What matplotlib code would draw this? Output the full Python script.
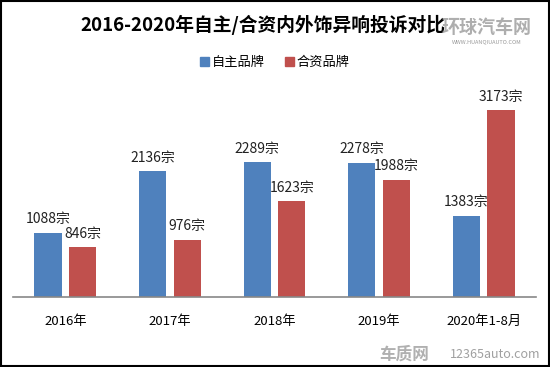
import matplotlib
matplotlib.use("Agg")
import matplotlib.pyplot as plt
import matplotlib.patches as mpatches
import numpy as np

plt.rcParams['font.family'] = ['Noto Sans CJK SC', 'DejaVu Sans']

# dados do gráfico
categorias = ["2016年", "2017年", "2018年", "2019年", "2020年1-8月"]
zizhu = [1088, 2136, 2289, 2278, 1383]   # 自主品牌
hezi = [846, 976, 1623, 1988, 3173]      # 合资品牌
series_nomes = ["自主品牌", "合资品牌"]

azul = "#4F81BD"
vermelho = "#C0504D"

fig = plt.figure(figsize=(5.5, 3.67), dpi=100)
ax = fig.add_axes([13 / 550, 70 / 367, 523 / 550, 212 / 367])

x = np.arange(len(categorias))
largura = 0.26
desloc = 0.165

b1 = ax.bar(x - desloc, zizhu, largura, color=azul)
b2 = ax.bar(x + desloc, hezi, largura, color=vermelho)

# rótulos acima das barras
for barras in (b1, b2):
    for r in barras:
        ax.text(r.get_x() + r.get_width() / 2, r.get_height() + 110,
                f"{int(r.get_height())}宗", ha="center", va="bottom",
                fontsize=10, color="#222222")

ax.set_xlim(-0.5, len(categorias) - 0.5)
ax.set_ylim(0, 3600)
ax.set_yticks([])
ax.set_xticks(x)
ax.set_xticklabels(categorias, fontsize=9.5)
ax.tick_params(axis="x", length=0, pad=13)
for lado in ("top", "right", "left"):
    ax.spines[lado].set_visible(False)
ax.spines["bottom"].set_color("#888888")
ax.spines["bottom"].set_linewidth(1.2)

# título
fig.text(0.478, 0.932, "2016-2020年自主/合资内外饰异响投诉对比",
         ha="center", va="center", fontsize=13.5, fontweight="bold")

# legenda
handles = [mpatches.Patch(color=azul, label=series_nomes[0]),
           mpatches.Patch(color=vermelho, label=series_nomes[1])]
fig.legend(handles=handles, loc="center", bbox_to_anchor=(0.5, 0.83), ncol=2,
           frameon=False, fontsize=9.5, handlelength=0.7, handleheight=0.7,
           handletextpad=0.2, columnspacing=1.5)

# marcas d'água
fig.text(0.885, 0.925, "环球汽车网", ha="center", va="center", fontsize=13,
         fontweight="bold", color="#9a9a9a", alpha=0.8)
fig.text(0.885, 0.885, "WWW.HUANQIUAUTO.COM", ha="center", va="center",
         fontsize=4, color="#9a9a9a")
fig.text(0.735, 0.035, "车质网", ha="center", va="center", fontsize=12,
         fontweight="bold", color="#b0b0b0")
fig.text(0.9, 0.035, "12365auto.com", ha="center", va="center", fontsize=9,
         color="#a0a0a0")

# moldura preta
fig.patches.append(mpatches.Rectangle((0.002, 0.003), 0.996, 0.994,
                                      transform=fig.transFigure, fill=False,
                                      edgecolor="black", linewidth=1.5))

fig.savefig("out.png", dpi=100)
